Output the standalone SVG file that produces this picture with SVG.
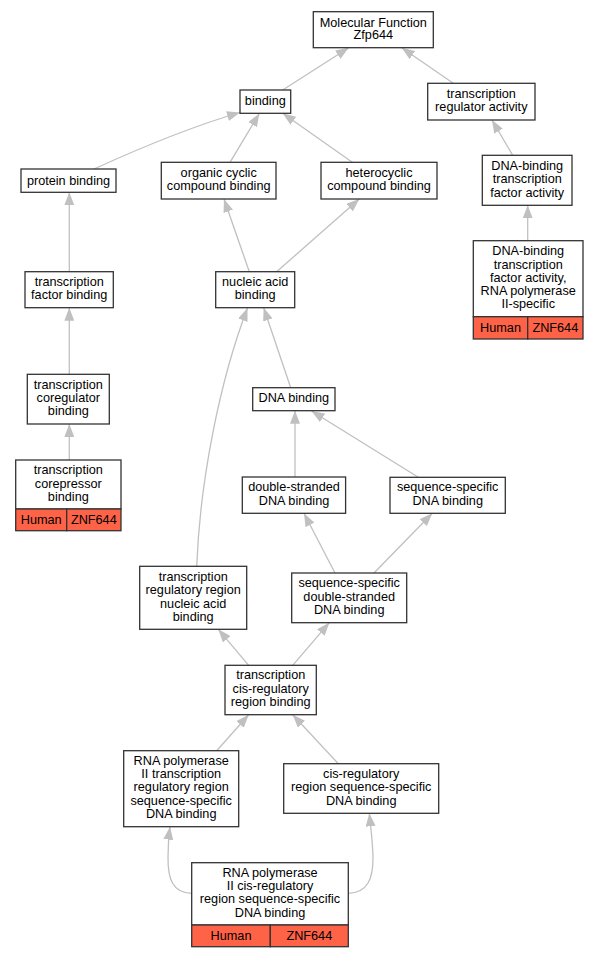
<svg xmlns="http://www.w3.org/2000/svg" width="599" height="957" viewBox="0 0 599 957">
<style>
.box{fill:#fff;stroke:#333;stroke-width:1.3}
.sp{fill:#ff6347;stroke:#333;stroke-width:1.3}
text{font-family:"Liberation Sans",Arial,sans-serif;font-size:12.7px;fill:#000;text-anchor:middle}
.e{fill:none;stroke:#c0c0c0;stroke-width:1.3;marker-end:url(#ah)}
</style>
<defs>
<marker id="ah" viewBox="0 0 13 10" refX="13" refY="5" markerWidth="13" markerHeight="10" markerUnits="userSpaceOnUse" orient="auto">
<path d="M0,0 L13,5 L0,10 z" fill="#c0c0c0"/>
</marker>
</defs>
<rect width="599" height="957" fill="#fff"/>
<g id="edges">
<path class="e" d="M282.7,90 L348.7,47.7"/>
<path class="e" d="M453.3,83.3 L401.7,47.7"/>
<path class="e" d="M94,169 C140,148 190,127 240,112.5"/>
<path class="e" d="M230,162.3 L259.3,113.5"/>
<path class="e" d="M352.3,162.3 L282.7,113.3"/>
<path class="e" d="M512.7,155.3 L492,120"/>
<path class="e" d="M527.7,240.7 L527.7,205.3"/>
<path class="e" d="M69.3,271.7 L69.3,192.3"/>
<path class="e" d="M249.3,271.7 L224,199"/>
<path class="e" d="M276.7,271.7 L359.3,199"/>
<path class="e" d="M69.3,374.3 L69.3,307.7"/>
<path class="e" d="M69.3,460 L69.3,424"/>
<path class="e" d="M290.7,387.7 L263.7,307.7"/>
<path class="e" d="M196.7,566.3 C200,480 220,380 247.5,308"/>
<path class="e" d="M295,477 L295,410.7"/>
<path class="e" d="M418.3,477.3 L311.5,411"/>
<path class="e" d="M335,573 L304,513.3"/>
<path class="e" d="M374,573 L432.3,513.3"/>
<path class="e" d="M248.7,665.3 L218.3,629.3"/>
<path class="e" d="M292.7,665.3 L329.3,622.7"/>
<path class="e" d="M216.7,750.7 L248.7,714.7"/>
<path class="e" d="M338.3,763.7 L292.7,714.7"/>
<path class="e" d="M191.7,893.3 C172,893 168,878 168,858 C168,848 168.5,838 170,826.7"/>
<path class="e" d="M348.3,893.3 C368,893 373,878 373,858 C373,845 371,830 369.3,813.3"/>
</g>
<g id="n1"><rect class="box" x="313.3" y="11.7" width="120" height="36"/><text x="373.3" y="26.7">Molecular Function</text><text x="373.3" y="39.4">Zfp644</text></g>
<g id="n2"><rect class="box" x="240" y="90" width="50.7" height="23.3"/><text x="265.3" y="105.4">binding</text></g>
<g id="n3"><rect class="box" x="427.7" y="83.3" width="107.3" height="36.7"/><text x="481.3" y="98.4">transcription</text><text x="481.3" y="111.1">regulator activity</text></g>
<g id="n4"><rect class="box" x="21" y="169" width="95" height="23.3"/><text x="68.5" y="184.9">protein binding</text></g>
<g id="n5"><rect class="box" x="161.3" y="162.3" width="114.7" height="36.7"/><text x="218.7" y="176.7">organic cyclic</text><text x="218.7" y="190.1">compound binding</text></g>
<g id="n6"><rect class="box" x="321" y="162.3" width="116" height="36.7"/><text x="379" y="176.7">heterocyclic</text><text x="379" y="190.1">compound binding</text></g>
<g id="n7"><rect class="box" x="482.3" y="155.3" width="89.7" height="50"/><text x="527.2" y="170.1">DNA-binding</text><text x="527.2" y="183.4">transcription</text><text x="527.2" y="197.1">factor activity</text></g>
<g id="n8"><rect class="box" x="473.3" y="240.7" width="109.7" height="76"/><rect class="sp" x="473.3" y="316.7" width="54.4" height="22.3"/><rect class="sp" x="527.7" y="316.7" width="55.3" height="22.3"/><text x="528.2" y="255.1">DNA-binding</text><text x="528.2" y="268.7">transcription</text><text x="528.2" y="281.7">factor activity,</text><text x="528.2" y="295.1">RNA polymerase</text><text x="528.2" y="308.4">II-specific</text><text x="500.5" y="331.9">Human</text><text x="555.3" y="331.9">ZNF644</text></g>
<g id="n9"><rect class="box" x="25" y="271.7" width="88.3" height="36"/><text x="69.2" y="286.1">transcription</text><text x="69.2" y="299.4">factor binding</text></g>
<g id="n10"><rect class="box" x="215.7" y="271.7" width="79" height="36"/><text x="255.2" y="286.1">nucleic acid</text><text x="255.2" y="299.4">binding</text></g>
<g id="n11"><rect class="box" x="27.3" y="374.3" width="82" height="49.7"/><text x="68.3" y="389.4">transcription</text><text x="68.3" y="402.1">coregulator</text><text x="68.3" y="415.1">binding</text></g>
<g id="n12"><rect class="box" x="252.7" y="387.7" width="82.3" height="23"/><text x="293.8" y="402.1">DNA binding</text></g>
<g id="n13"><rect class="box" x="15.7" y="460" width="105.3" height="49"/><rect class="sp" x="15.7" y="509" width="51" height="21.7"/><rect class="sp" x="66.7" y="509" width="54.3" height="21.7"/><text x="68.3" y="474.4">transcription</text><text x="68.3" y="487.7">corepressor</text><text x="68.3" y="501.1">binding</text><text x="41.2" y="524.1">Human</text><text x="93.8" y="524.1">ZNF644</text></g>
<g id="n14"><rect class="box" x="242.3" y="477" width="103.3" height="36.3"/><text x="294" y="491.1">double-stranded</text><text x="294" y="504.7">DNA binding</text></g>
<g id="n15"><rect class="box" x="390" y="477.3" width="115.3" height="36"/><text x="447.7" y="491.1">sequence-specific</text><text x="447.7" y="504.7">DNA binding</text></g>
<g id="n16"><rect class="box" x="139.7" y="566.3" width="107" height="63"/><text x="193.2" y="580.9">transcription</text><text x="193.2" y="594.2">regulatory region</text><text x="193.2" y="607.5">nucleic acid</text><text x="193.2" y="620.8">binding</text></g>
<g id="n17"><rect class="box" x="291.7" y="573" width="115" height="49.7"/><text x="349.2" y="587.1">sequence-specific</text><text x="349.2" y="600.7">double-stranded</text><text x="349.2" y="614.4">DNA binding</text></g>
<g id="n18"><rect class="box" x="225" y="665.3" width="91.3" height="49.4"/><text x="270.7" y="679.4">transcription</text><text x="270.7" y="693.1">cis-regulatory</text><text x="270.7" y="706.1">region binding</text></g>
<g id="n19"><rect class="box" x="123.7" y="750.7" width="115" height="76"/><text x="181.2" y="765.1">RNA polymerase</text><text x="181.2" y="778.1">II transcription</text><text x="181.2" y="791.4">regulatory region</text><text x="181.2" y="805.1">sequence-specific</text><text x="181.2" y="818.1">DNA binding</text></g>
<g id="n20"><rect class="box" x="283.7" y="763.7" width="155" height="49.6"/><text x="361.2" y="778.4">cis-regulatory</text><text x="361.2" y="791.4">region sequence-specific</text><text x="361.2" y="805.1">DNA binding</text></g>
<g id="n21"><rect class="box" x="191.7" y="862.7" width="156.6" height="62.3"/><rect class="sp" x="191.7" y="925" width="78.6" height="21.7"/><rect class="sp" x="270.3" y="925" width="78" height="21.7"/><text x="270" y="877.1">RNA polymerase</text><text x="270" y="890.1">II cis-regulatory</text><text x="270" y="903.4">region sequence-specific</text><text x="270" y="917.1">DNA binding</text><text x="231" y="940.2">Human</text><text x="309.3" y="940.2">ZNF644</text></g>
</svg>
